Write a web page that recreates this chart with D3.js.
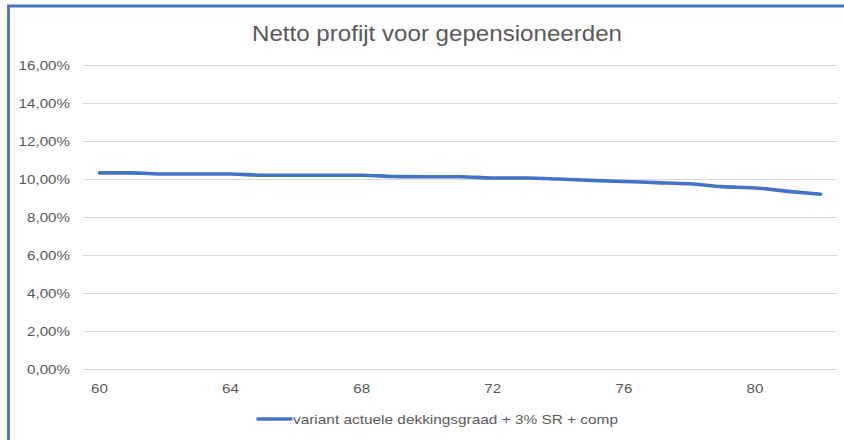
<!DOCTYPE html>
<html><head><meta charset="utf-8">
<script src="https://cdn.jsdelivr.net/npm/d3@7"></script>
<style>html,body{margin:0;padding:0;background:#fff;}svg{display:block;font-family:"Liberation Sans",Arial,sans-serif;}</style>
</head><body>
<script>
const title = "Netto profijt voor gepensioneerden";
const seriesName = "variant actuele dekkingsgraad + 3% SR + comp";
const ages = [60,61,62,63,64,65,66,67,68,69,70,71,72,73,74,75,76,77,78,79,80,81,82];
const values = [10.32,10.32,10.26,10.26,10.26,10.20,10.20,10.20,10.20,10.13,10.12,10.12,10.05,10.05,10.00,9.93,9.87,9.81,9.75,9.60,9.53,9.35,9.20];
const yTicks = [0,2,4,6,8,10,12,14,16];
const xTickLabels = [60,64,68,72,76,80];

const W = 844, H = 440;
const stretch = 1.14;
const svg = d3.select("body").append("svg").attr("width", W).attr("height", H);
svg.append("rect").attr("width", W).attr("height", H).attr("fill", "#fff");

function widen(sel, f) {
  sel.each(function() {
    const len = this.getComputedTextLength();
    d3.select(this).attr("textLength", len * f).attr("lengthAdjust", "spacingAndGlyphs");
  });
}

// frame
svg.append("path").attr("d", `M8.5,${H+5} L8.5,6 L${W+5},6`).attr("fill","none")
  .attr("stroke","#4472C4").attr("stroke-width",2.8);

const plot = {left: 83, right: 837, top: 65, bottom: 369};
const x = d3.scaleBand().domain(ages).range([plot.left, plot.right]);
const y = d3.scaleLinear().domain([0,16]).range([plot.bottom, plot.top]);

// title
const t = svg.append("text").attr("x", 437).attr("y", 41).attr("text-anchor","middle")
  .attr("font-size", 22).attr("fill", "#595959").text(title);
t.attr("textLength", 370).attr("lengthAdjust", "spacingAndGlyphs");

// gridlines + y labels
const yAxis = d3.axisLeft(y).tickValues(yTicks).tickSize(-(plot.right-plot.left)).tickPadding(13)
  .tickFormat(d => d3.format(".2f")(d).replace(".", ",") + "%");
const gy = svg.append("g").attr("transform", `translate(${plot.left},0)`).call(yAxis);
gy.select(".domain").remove();
gy.selectAll(".tick line").attr("stroke", "#d9d9d9").attr("stroke-width", 1);
gy.selectAll(".tick text").attr("font-size", 13.3).attr("fill", "#595959")
  .attr("font-family", "'Liberation Sans', Arial, sans-serif").call(widen, stretch);

// x labels
const xAxis = d3.axisBottom(x).tickValues(xTickLabels).tickSize(0).tickPadding(15);
const gx = svg.append("g").attr("transform", `translate(0,${plot.bottom})`).call(xAxis);
gx.select(".domain").remove();
gx.selectAll(".tick text").attr("font-size", 13.3).attr("fill", "#595959")
  .attr("font-family", "'Liberation Sans', Arial, sans-serif").call(widen, stretch);

// line
const line = d3.line().x((d,i) => x(ages[i]) + x.bandwidth()/2).y(d => y(d)).curve(d3.curveMonotoneX);
svg.append("path").datum(values).attr("d", line).attr("fill","none")
  .attr("stroke","#4472C4").attr("stroke-width",3.6).attr("stroke-linecap","round").attr("stroke-linejoin","round");

// legend
const lg = svg.append("g");
lg.append("line").attr("x1", 258).attr("x2", 291).attr("y1", 419).attr("y2", 419)
  .attr("stroke","#4472C4").attr("stroke-width",3.6).attr("stroke-linecap","round");
lg.append("text").attr("x", 293).attr("y", 424).attr("font-size", 13.5).attr("fill","#595959")
  .text(seriesName).attr("textLength", 325).attr("lengthAdjust", "spacingAndGlyphs");
</script>
</body></html>
